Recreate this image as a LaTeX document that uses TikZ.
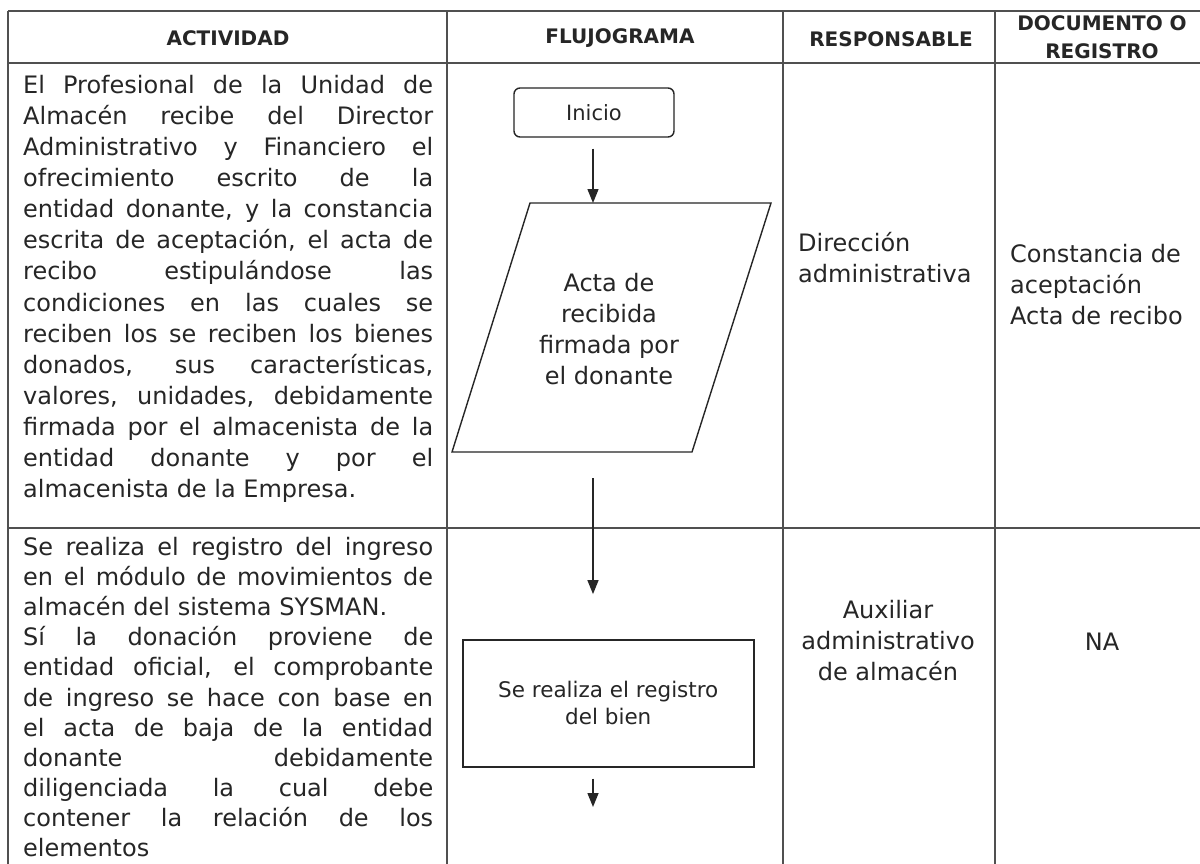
\documentclass[tikz,border=0pt]{standalone}
\usepackage{fontspec}
\setmainfont{DejaVu Sans}
\usetikzlibrary{arrows.meta}
\newcommand\jl[1]{\hbox to 410pt{\spaceskip=0.318em plus 1fil minus 0.12em\relax #1}}
\definecolor{ink}{HTML}{262626}
\definecolor{rulec}{HTML}{505050}
\begin{document}
\begin{tikzpicture}[x=1pt,y=-1pt,
  tabline/.style={draw=rulec, line width=1.8pt},
  hdr/.style={font=\fontsize{20}{28}\selectfont\bfseries, text=ink, align=center, inner sep=0pt},
  body/.style={font=\fontsize{24}{31}\selectfont, text=ink, inner sep=0pt},
  shapeline/.style={draw=ink, line width=1.4pt},
  startbox/.style={shapeline, rounded corners=6pt, minimum width=160pt, minimum height=49pt, font=\fontsize{21}{24}\selectfont, text=ink, inner sep=0pt},
  procbox/.style={shapeline, minimum width=291pt, minimum height=127pt, align=center, font=\fontsize{21.5}{27}\selectfont, text=ink, inner sep=0pt},
  arr/.style={draw=ink, line width=1.4pt, -{Triangle[width=11pt,length=14pt]}}
]
\useasboundingbox (0,0) rectangle (1200,863);
\fill[white] (0,0) rectangle (1200,863);
\clip (0,0) rectangle (1200,863);

% table grid
\foreach \yy in {11,63,528} \draw[tabline] (8,\yy) -- (1212,\yy);
\foreach \xx in {8,447,783,995,1209} \draw[tabline] (\xx,11) -- (\xx,875);

% headers
\node[hdr] (h1) at (228,38) {ACTIVIDAD};
\node[hdr] (h2) at (620,38) {FLUJOGRAMA};
\node[hdr] (h3) at (891,39) {RESPONSABLE};
\node[hdr] (h4) at (1102,37.5) {DOCUMENTO O\\REGISTRO};

% activity row 1
\foreach \t [count=\i from 0] in {
  {El Profesional de la Unidad de},
  {Almacén recibe del Director},
  {Administrativo y Financiero el},
  {ofrecimiento escrito de la},
  {entidad donante, y la constancia},
  {escrita de aceptación, el acta de},
  {recibo estipulándose las},
  {condiciones en las cuales se},
  {reciben los se reciben los bienes},
  {donados, sus características,},
  {valores, unidades, debidamente},
  {firmada por el almacenista de la},
  {entidad donante y por el}}
  \node[body, anchor=base west] (a1-\i) at (23,{93.3+31.1*\i}) {\jl{\t}};
\node[body, anchor=base west] (a1-13) at (23,{93.3+31.1*13}) {almacenista de la Empresa.};

% activity row 2
\foreach \t [count=\i from 0] in {
  {Se realiza el registro del ingreso},
  {en el módulo de movimientos de}}
  \node[body, anchor=base west] (a2-\i) at (23,{555.5+30.1*\i}) {\jl{\t}};
\node[body, anchor=base west] (a2-2) at (23,{555.5+30.1*2}) {almacén del sistema SYSMAN.};
\foreach \t [count=\i from 3] in {
  {Sí la donación proviene de},
  {entidad oficial, el comprobante},
  {de ingreso se hace con base en},
  {el acta de baja de la entidad},
  {donante debidamente},
  {diligenciada la cual debe},
  {contener la relación de los}}
  \node[body, anchor=base west] (a2-\i) at (23,{555.5+30.1*\i}) {\jl{\t}};
\node[body, anchor=base west] (a2-10) at (23,{555.5+30.1*10}) {elementos};

% flowchart
\node[startbox] (ini) at (594,112.5) {Inicio};
\coordinate (p1) at (530,203);
\coordinate (p2) at (771,203);
\coordinate (p3) at (692,452);
\coordinate (p4) at (452,452);
\coordinate (ptop) at (593,203);
\coordinate (pbot) at (593,452);
\draw[shapeline] (p1) -- (p2) -- (p3) -- (p4) -- cycle;
\node[body, align=center] (ptxt) at (609,329) {Acta de\\recibida\\firmada por\\el donante};
\node[procbox] (reg) at (608.3,703.3) {Se realiza el registro\\del bien};
\coordinate (nxt) at (593,807);

\draw[arr, shorten <=11pt] (ptop |- ini.south) -- (ptop);
\draw[arr, shorten <=26pt, shorten >=45pt] (pbot) -- (pbot |- reg.north);
\draw[arr, shorten <=11pt] (pbot |- reg.south) -- (nxt);

% responsible / documents
\node[body, align=left, anchor=west] (r1) at (798,258) {Dirección\\administrativa};
\node[body, align=left, anchor=west] (d1) at (1010,285) {Constancia de\\aceptación\\Acta de recibo};
\node[body, align=center] (r2) at (888,641) {Auxiliar\\administrativo\\de almacén};
\node[body] (d2) at (1102,641.7) {NA};
\end{tikzpicture}
\end{document}
